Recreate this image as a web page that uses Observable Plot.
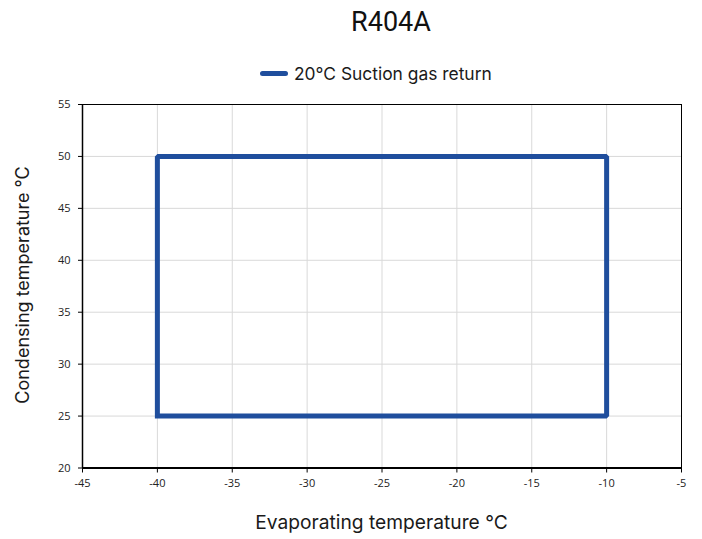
<!DOCTYPE html>
<html><head><meta charset="utf-8">
<script src="https://cdn.jsdelivr.net/npm/d3@7"></script>
<script src="https://cdn.jsdelivr.net/npm/@observablehq/plot@0.6"></script>
<style>
html,body{margin:0;padding:0;background:#fff;}
#wrap{position:relative;width:702px;height:539px;overflow:hidden;font-family:Inter,sans-serif;}
#title{position:absolute;left:0;width:782px;top:6px;text-align:center;font-size:27px;color:#111;font-family:Roboto,sans-serif;}
#legend{position:absolute;top:63px;left:260px;display:flex;align-items:center;font-size:17.4px;color:#1a1a1a;}
#legend .sw{width:28px;height:5px;border-radius:3px;background:#1f4e9d;margin-right:6px;}
#chart{position:absolute;left:0;top:90px;}
#xlab{position:absolute;top:510px;left:0;width:763px;text-align:center;font-size:19.2px;color:#1a1a1a;}
#ylab{position:absolute;left:22px;top:285px;transform:translate(-50%,-50%) rotate(-90deg);white-space:nowrap;font-size:18px;color:#1a1a1a;}
</style></head>
<body><div id="wrap">
<div id="title">R404A</div>
<div id="legend"><div class="sw"></div><span>20°C Suction gas return</span></div>
<div id="chart"></div>
<div id="xlab">Evaporating temperature °C</div>
<div id="ylab">Condensing temperature °C</div>
</div>
<script>
const seriesName = "20°C Suction gas return";
const evap = [-40, -40, -10, -10, -40];
const cond = [25, 50, 50, 25, 25];
const xTicks = [-45, -40, -35, -30, -25, -20, -15, -10, -5];
const yTicks = [20, 25, 30, 35, 40, 45, 50, 55];

const data = evap.map((x, i) => ({x, y: cond[i]}));

const chart = Plot.plot({
  width: 702,
  height: 449,
  marginLeft: 82,
  marginRight: 21,
  marginTop: 14,
  marginBottom: 71.5,
  style: {fontFamily: "'Open Sans', sans-serif", fontSize: "11px", color: "#222"},
  x: {domain: [-45, -5], ticks: xTicks, label: null},
  y: {domain: [20, 55], ticks: yTicks, label: null},
  marks: [
    Plot.gridX(xTicks, {stroke: "#d9d9d9", strokeOpacity: 1}),
    Plot.gridY(yTicks, {stroke: "#d9d9d9", strokeOpacity: 1}),
    Plot.frame({stroke: "#000", strokeWidth: 1}),
    Plot.axisX({ticks: xTicks, tickSize: 5, tickPadding: 6, stroke: "#000", fill: "#222", label: null, tickFormat: d => String(d)}),
    Plot.axisY({ticks: yTicks, tickSize: 4, tickPadding: 8, stroke: "#000", fill: "#222", label: null, tickFormat: d => String(d)}),
    Plot.ruleY([20], {stroke: "#000", strokeWidth: 2}),
    Plot.ruleX([-45], {stroke: "#000", strokeWidth: 1.5}),
    Plot.line(data, {x: "x", y: "y", stroke: "#1f4e9d", strokeWidth: 5, strokeLinejoin: "miter", strokeLinecap: "square", curve: "linear"})
  ]
});
document.getElementById("chart").appendChild(chart);
</script>
</body></html>
